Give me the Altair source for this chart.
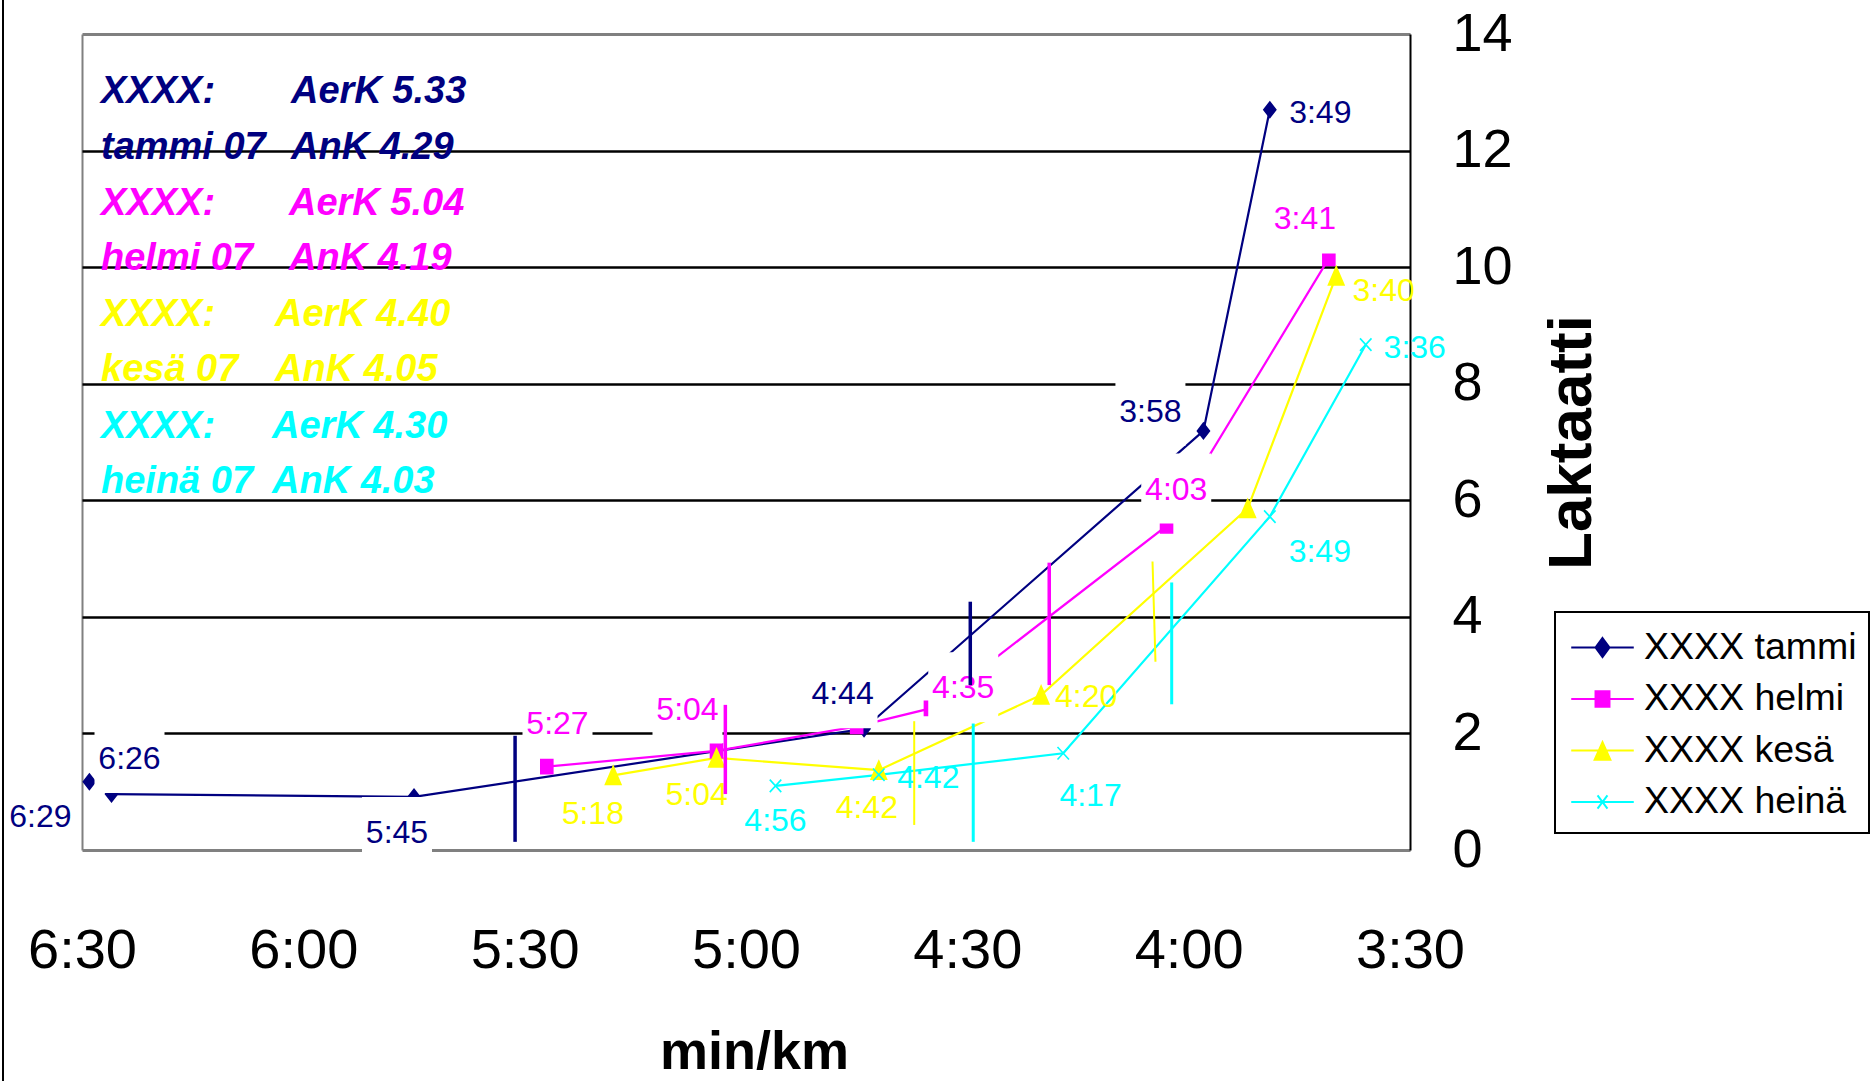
import altair as alt
import pandas as pd

# ---------------- data ----------------
SERIES = ["XXXX tammi", "XXXX helmi", "XXXX kesä", "XXXX heinä"]
COLORS = ["#000080", "#FF00FF", "#FFFF00", "#00FFFF"]

tammi_pace = ["6:29", "6:26", "5:45", "4:44", "3:58", "3:49"]
tammi_lac = [1.17, 0.96, 0.91, 2.08, 7.19, 12.70]
tammi_joined = [False, True, True, True, True, True]
tammi_labelled = [True, True, True, True, True, True]

helmi_pace = ["5:27", "5:04", "4:45", "4:35", "4:03", "3:41"]
helmi_lac = [1.43, 1.70, 2.12, 2.43, 5.56, 10.15]
helmi_labelled = [True, True, False, True, True, True]

kesa_pace = ["5:18", "5:04", "4:42", "4:20", "3:52", "3:40"]
kesa_lac = [1.28, 1.58, 1.37, 2.66, 5.86, 9.85]
kesa_labelled = [True, True, True, True, False, True]

heina_pace = ["4:56", "4:42", "4:17", "3:49", "3:36"]
heina_lac = [1.10, 1.29, 1.66, 5.72, 8.67]
heina_labelled = [True, True, True, True, True]

# threshold markers (pace in seconds per km, lactate range)
aerk_sec = [331.3, 302.8, 277.2, 269.2]
aerk_low = [0.14, 0.96, 0.43, 0.14]
aerk_high = [1.96, 2.49, 2.21, 2.17]
ank_sec_low = [269.6, 258.9, 244.5, 242.3]
ank_sec_high = [269.6, 258.9, 244.9, 242.3]
ank_low = [2.83, 2.83, 3.23, 2.50]
ank_high = [4.26, 4.93, 4.95, 4.59]

ann_names = [["XXXX:", "tammi 07"], ["XXXX:", "helmi 07"], ["XXXX:", "kesä 07"], ["XXXX:", "heinä 07"]]
ann_values = [["AerK 5.33", "AnK 4.29"], ["AerK 5.04", "AnK 4.19"], ["AerK 4.40", "AnK 4.05"], ["AerK 4.30", "AnK 4.03"]]

x_ticks = [390, 360, 330, 300, 270, 240, 210]
y_ticks = [0, 2, 4, 6, 8, 10, 12, 14]

# ---------------- styles ----------------
FONT = "Liberation Sans, Arial, sans-serif"

LABEL_OFFSETS = [
    [(-49, 33), (18, -37), (-17, 34), (-21.5, -36.5), (-53, -21), (50.5, 1.5)],
    [(10.7, -44.6), (-29, -43.4), None, (32.8, -22.2), (9.7, -38.4), (-24, -41)],
    [(-20.4, 37), (-19.8, 34.6), (-12, 35.7), (45, 0), None, (47.4, 13)],
    [(0, 33.3), (49.5, 1), (27.3, 40.3), (50, 33), (49, 1)],
]
BOXED = [True, True, False, False]
THR_WIDTH = [3.5, 3.5, 2.0, 3.0]

MARKER_PATHS = [
    "M0,-1.55L1.2,0L0,1.55L-1.2,0Z",
    "M-1.2,-1.4H1.2V1.4H-1.2Z",
    "M0,-1.8L1.55,1.8H-1.55Z",
    "M-1.15,-1.25L1.15,1.25M-1.15,1.25L1.15,-1.25",
]
LEGEND_PATHS = [
    "M-1.39,0H1.39M0,-0.42L0.31,0L0,0.42L-0.31,0Z",
    "M-1.39,0H1.39M-0.31,-0.34H0.31V0.34H-0.31Z",
    "M-1.39,0H1.39M0,-0.37L0.35,0.41H-0.35Z",
    "M-1.39,0H1.39M-0.22,-0.29L0.22,0.29M-0.22,0.29L0.22,-0.29",
]
ANN_X2 = [209, 207, 193, 190]
ANN_Y = [69.4, 180.5, 291.9, 403.9]


def to_sec(s):
    m, ss = s.split(":")
    return int(m) * 60 + int(ss)


rows = []
all_series = [
    (tammi_pace, tammi_lac, tammi_joined, tammi_labelled),
    (helmi_pace, helmi_lac, [True] * len(helmi_pace), helmi_labelled),
    (kesa_pace, kesa_lac, [True] * len(kesa_pace), kesa_labelled),
    (heina_pace, heina_lac, [True] * len(heina_pace), heina_labelled),
]
for si, (paces, lacs, joined, labelled) in enumerate(all_series):
    for i, (p, v, j, lab) in enumerate(zip(paces, lacs, joined, labelled)):
        rows.append(dict(series=SERIES[si], s=si, i=i, pace=p, sec=to_sec(p), lac=v,
                         joined=j, labelled=lab, key=f"s{si}_{i}"))
df = pd.DataFrame(rows)

thr_rows = []
for si in range(4):
    thr_rows.append(dict(s=si, xa=aerk_sec[si], xb=aerk_sec[si], lo=aerk_low[si], hi=aerk_high[si]))
    thr_rows.append(dict(s=si, xa=ank_sec_low[si], xb=ank_sec_high[si], lo=ank_low[si], hi=ank_high[si]))
thr_df = pd.DataFrame(thr_rows)

dummy = pd.DataFrame({"k": [1]})

# ---------------- scales & axes ----------------
xscale = alt.Scale(domain=[210, 390], reverse=True, nice=False, zero=False)
yscale = alt.Scale(domain=[0, 14], nice=False, zero=False)

xaxis = alt.Axis(
    values=x_ticks,
    labelExpr="floor(datum.value / 60) + ':' + (datum.value % 60 < 10 ? '0' : '') + (datum.value % 60)",
    labelFont=FONT, labelFontSize=56, labelColor="black",
    labelBaseline="alphabetic", labelPadding=117, labelFlush=False, labelOverlap=False,
    ticks=False, tickSize=0, domain=False,
    grid=True, gridColor="#808080", gridWidth=2,
    gridOpacity={"condition": {"test": "datum.value == 390", "value": 1}, "value": 0},
    title="min/km", titleFont=FONT, titleFontSize=54, titleFontWeight="bold",
    titleColor="black", titleX=672, titleY=218, titleBaseline="alphabetic", titleAlign="center",
)
yaxis = alt.Axis(
    orient="right", values=y_ticks,
    labelFont=FONT, labelFontSize=54, labelColor="black", labelAlign="left",
    labelPadding=42, labelFlush=False, labelOverlap=False,
    ticks=False, tickSize=0, domain=True, domainColor="black", domainWidth=2,
    grid=True,
    gridColor={"condition": {"test": "datum.value == 0 || datum.value == 14", "value": "#808080"},
               "value": "black"},
    gridWidth={"condition": {"test": "datum.value == 0 || datum.value == 14", "value": 3},
               "value": 2.3},
    title="Laktaatti", titleFont=FONT, titleFontSize=62, titleFontWeight="bold",
    titleColor="black", titleAngle=270, titleX=180, titleY=408,
    titleAlign="center", titleBaseline="alphabetic",
)

X = alt.X("sec:Q", scale=xscale, axis=xaxis)
Y = alt.Y("lac:Q", scale=yscale, axis=yaxis)

layers = []

# page border on the left
layers.append(
    alt.Chart(dummy).mark_rule(color="black", strokeWidth=2).encode(
        x=alt.value(-79), y=alt.value(-34), y2=alt.value(1047)
    )
)

# series lines
layers.append(
    alt.Chart(df).transform_filter("datum.joined").mark_line(strokeWidth=2.2).encode(
        x=X, y=Y,
        color=alt.Color("series:N", scale=alt.Scale(domain=SERIES, range=COLORS), legend=None),
        detail="series:N",
    )
)

# markers
layers.append(
    alt.Chart(df).mark_point(filled=True, size=100, strokeWidth=1.6, opacity=1).encode(
        x=X, y=Y,
        fill=alt.Fill("series:N", scale=alt.Scale(domain=SERIES, range=COLORS), legend=None),
        stroke=alt.Stroke("series:N", scale=alt.Scale(domain=SERIES, range=COLORS), legend=None),
        shape=alt.Shape("series:N", scale=alt.Scale(domain=SERIES, range=MARKER_PATHS), legend=None),
    )
)

# white label boxes (navy and magenta labels)
for si in range(4):
    if not BOXED[si]:
        continue
    for i, off in enumerate(LABEL_OFFSETS[si]):
        if off is None:
            continue
        layers.append(
            alt.Chart(df).transform_filter(f"datum.key == 's{si}_{i}'").mark_point(
                shape="square", size=4900, filled=True, color="white", opacity=1,
                strokeWidth=0, xOffset=off[0], yOffset=off[1] + 1,
            ).encode(x=X, y=Y)
        )

# pace labels
for si in range(4):
    for i, off in enumerate(LABEL_OFFSETS[si]):
        if off is None:
            continue
        layers.append(
            alt.Chart(df).transform_filter(f"datum.key == 's{si}_{i}' && datum.labelled").mark_text(
                font=FONT, fontSize=32, color=COLORS[si], align="center", baseline="middle",
                dx=off[0], dy=off[1] + 2,
            ).encode(x=X, y=Y, text="pace:N")
        )

# threshold markers
for si in range(4):
    layers.append(
        alt.Chart(thr_df).transform_filter(f"datum.s == {si}").mark_rule(
            color=COLORS[si], strokeWidth=THR_WIDTH[si]
        ).encode(
            x=alt.X("xa:Q", scale=xscale, axis=xaxis),
            x2="xb:Q",
            y=alt.Y("lo:Q", scale=yscale, axis=yaxis),
            y2="hi:Q",
        )
    )

# annotation block
for si in range(4):
    layers.append(
        alt.Chart(dummy).mark_text(
            font=FONT, fontSize=38, fontWeight="bold", fontStyle="italic",
            color=COLORS[si], align="left", baseline="alphabetic", lineHeight=55.5,
        ).encode(x=alt.value(19), y=alt.value(ANN_Y[si]), text=alt.value(ann_names[si]))
    )
    layers.append(
        alt.Chart(dummy).mark_text(
            font=FONT, fontSize=38, fontWeight="bold", fontStyle="italic",
            color=COLORS[si], align="left", baseline="alphabetic", lineHeight=55.5,
        ).encode(x=alt.value(ANN_X2[si]), y=alt.value(ANN_Y[si]), text=alt.value(ann_values[si]))
    )

# legend (drawn from scales only)
LEG = alt.Legend(
    title=None, orient="none", legendX=1473, legendY=578, direction="vertical",
    padding=12, rowPadding=9.5, labelOffset=18, symbolOffset=12,
    labelFont=FONT, labelFontSize=37.5, labelColor="black", labelLimit=500,
    symbolSize=2025, symbolStrokeWidth=2, strokeColor="black", fillColor="white",
)
layers.append(
    alt.Chart(df).transform_filter("false").mark_point(filled=True, size=2025, strokeWidth=2, opacity=1).encode(
        x=X, y=Y,
        fill=alt.Fill("series:N", scale=alt.Scale(domain=SERIES, range=COLORS), legend=LEG),
        stroke=alt.Stroke("series:N", scale=alt.Scale(domain=SERIES, range=COLORS), legend=LEG),
        shape=alt.Shape("series:N", scale=alt.Scale(domain=SERIES, range=LEGEND_PATHS), legend=LEG),
    )
)

chart = alt.layer(*layers).resolve_scale(
    fill="independent", stroke="independent", shape="independent"
).properties(
    width=1328, height=816,
    padding={"left": 82, "top": 34, "right": 460, "bottom": 231},
    autosize=alt.AutoSizeParams(type="none"),
    background="white",
).configure_view(strokeWidth=0).configure_legend(strokeWidth=2, cornerRadius=0)

chart.save("out.html", embed_options={"renderer": "svg", "actions": False})
